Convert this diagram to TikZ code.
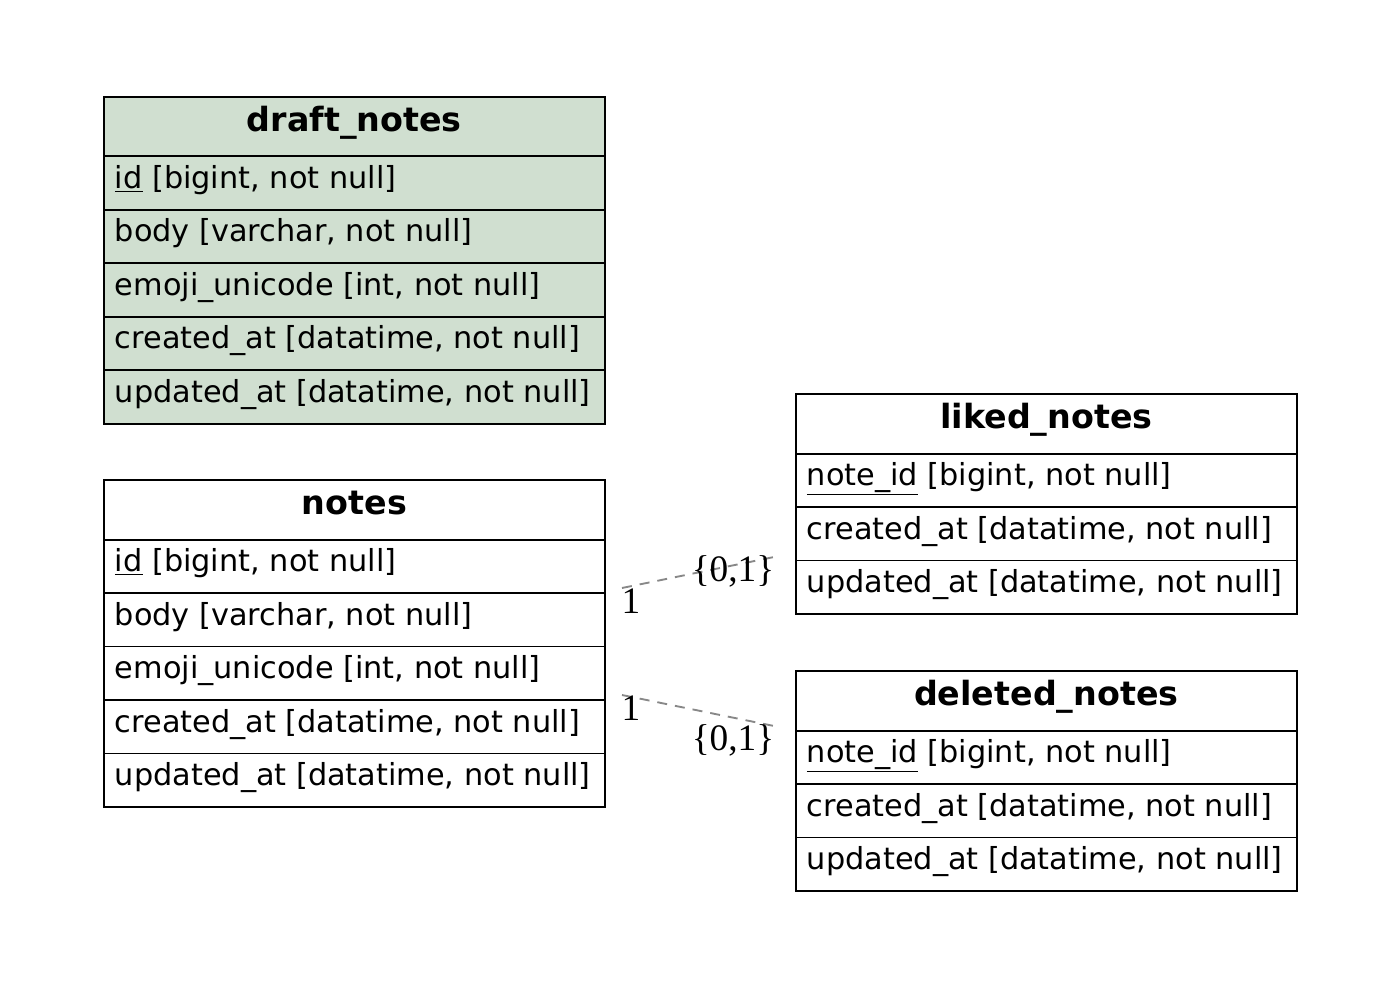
\documentclass[tikz,border=0pt]{standalone}
\usepackage{fontspec}
\setmainfont{DejaVu Sans}
\newfontfamily\lblfont{Liberation Serif}
\definecolor{draftfill}{HTML}{D0DFD0}
\definecolor{edgegray}{HTML}{888888}
\newcommand{\cellbox}[1]{\makebox[359.25pt][l]{#1}}
\begin{document}
\begin{tikzpicture}[x=0.75pt,y=-0.75pt,
  cell/.style={draw=black, line width=1.3pt, anchor=north west,
    minimum width=375.75pt, inner xsep=8.25pt,
    inner ysep=0pt, minimum height=40.2pt,
    text height=17pt, text depth=9pt,
    font=\fontsize{22.75}{26}\selectfont},
  head/.style={cell, minimum height=45pt, text height=18pt, text depth=11pt,
    font=\fontsize{25}{28}\selectfont\bfseries},
  draft/.style={fill=draftfill},
  edge/.style={draw=edgegray, line width=1.4pt, dash pattern=on 7.5pt off 6pt},
  lbl/.style={font=\lblfont\fontsize{28}{30}\selectfont, inner sep=0pt}
]
\useasboundingbox (0,0) rectangle (1400,984);

% draft_notes
\node[head,draft] (dn-h) at (103,96) {\makebox[359.25pt][c]{draft\_notes}};
\node[cell,draft] (dn-1) at (103,155.5) {\cellbox{\underline{id} [bigint, not null]}};
\node[cell,draft] (dn-2) at (103,209) {\cellbox{body [varchar, not null]}};
\node[cell,draft] (dn-3) at (103,262.5) {\cellbox{emoji\_unicode [int, not null]}};
\node[cell,draft] (dn-4) at (103,316) {\cellbox{created\_at [datatime, not null]}};
\node[cell,draft] (dn-5) at (103,369.5) {\cellbox{updated\_at [datatime, not null]}};

% notes
\node[head] (n-h) at (103,479) {\makebox[359.25pt][c]{notes}};
\node[cell] (n-1) at (103,538.5) {\cellbox{\underline{id} [bigint, not null]}};
\node[cell] (n-2) at (103,592) {\cellbox{body [varchar, not null]}};
\node[cell] (n-3) at (103,645.5) {\cellbox{emoji\_unicode [int, not null]}};
\node[cell] (n-4) at (103,699) {\cellbox{created\_at [datatime, not null]}};
\node[cell] (n-5) at (103,752.5) {\cellbox{updated\_at [datatime, not null]}};

% liked_notes
\node[head] (l-h) at (795,393) {\makebox[359.25pt][c]{liked\_notes}};
\node[cell] (l-1) at (795,452.5) {\cellbox{\underline{note\_id} [bigint, not null]}};
\node[cell] (l-2) at (795,506) {\cellbox{created\_at [datatime, not null]}};
\node[cell] (l-3) at (795,559.5) {\cellbox{updated\_at [datatime, not null]}};

% deleted_notes
\node[head] (d-h) at (795,670) {\makebox[359.25pt][c]{deleted\_notes}};
\node[cell] (d-1) at (795,729.5) {\cellbox{\underline{note\_id} [bigint, not null]}};
\node[cell] (d-2) at (795,783) {\cellbox{created\_at [datatime, not null]}};
\node[cell] (d-3) at (795,836.5) {\cellbox{updated\_at [datatime, not null]}};

% connectors
\coordinate (e1s) at (622,588);
\coordinate (e1t) at (779,556);
\coordinate (e2s) at (622,695);
\coordinate (e2t) at (779,727);
\draw[edge] (e1s) -- (e1t);
\draw[edge] (e2s) -- (e2t);
\node[lbl] (e1a) at (631,601) {1};
\node[lbl] (e1b) at (733,571) {\{0,1\}};
\node[lbl] (e2a) at (631,708) {1};
\node[lbl] (e2b) at (733,740) {\{0,1\}};
\end{tikzpicture}
\end{document}
